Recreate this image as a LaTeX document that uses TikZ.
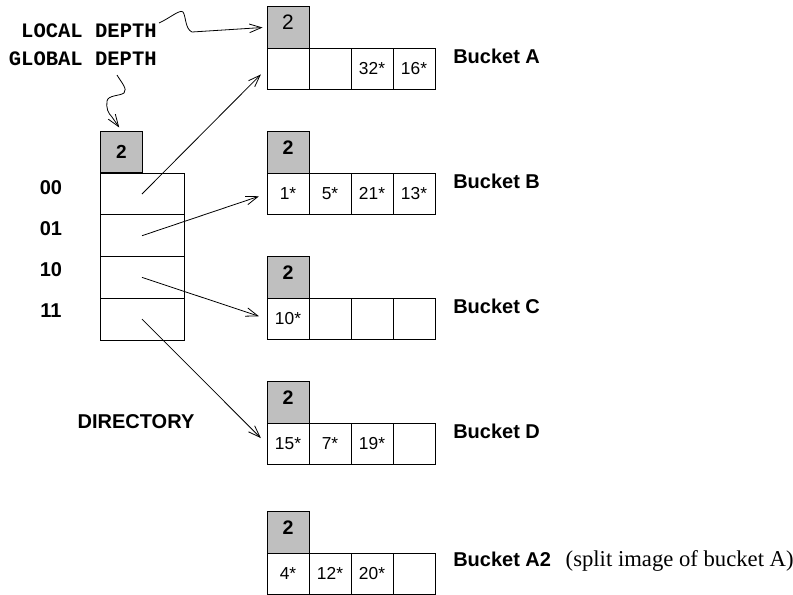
\documentclass[tikz,border=0pt]{standalone}
\usepackage{fontspec}
\setmainfont{Liberation Serif}
\setsansfont{Liberation Sans}
\setmonofont{Liberation Mono}
\usetikzlibrary{arrows.meta}

\begin{document}
\begin{tikzpicture}[x=0.75pt,y=-0.75pt,
  cell/.style={draw,line width=0.7pt,minimum width=31.5pt,minimum height=31.1pt,inner sep=0pt,
    text height=9.3pt,text depth=0pt,font=\sffamily\fontsize{13}{13}\selectfont},
  depthbox/.style={cell,fill=black!25,text height=10.5pt,text depth=7.5pt,
    font=\sffamily\bfseries\fontsize{14.7}{14.7}\selectfont},
  dircell/.style={cell,minimum width=63pt,minimum height=31.3pt},
  lbl/.style={inner sep=0pt,font=\sffamily\bfseries\fontsize{15}{15}\selectfont},
  monolbl/.style={inner sep=0pt,font=\ttfamily\bfseries\fontsize{15.4}{15.4}\selectfont},
  ptr/.style={line width=0.6pt,-{Straight Barb[length=9pt,width=6.5pt]},shorten >=6pt},
  squig/.style={line width=0.6pt,-{Straight Barb[length=9pt,width=6.5pt]},shorten >=3pt}]
\useasboundingbox (0,0) rectangle (793,594);

% buckets
\foreach \b/\y/\dv/\ca/\cb/\cc/\cd/\txt in {
    A/48/{\mdseries\fontsize{15.7}{15.7}\selectfont 2}/{}/{}/32*/16*/{Bucket A},
    B/173/2/1*/5*/21*/13*/{Bucket B},
    C/298/2/10*/{}/{}/{}/{Bucket C},
    D/423/2/15*/7*/19*/{}/{Bucket D},
    A2/553/2/4*/12*/20*/{}/{Bucket A2\hspace*{11pt}{\rmfamily\mdseries\fontsize{17}{17}\selectfont (split image of bucket A)}}} {
  \node[depthbox] (\b-d) at (288,\y-20.75) {\dv};
  \node[cell] (\b-1) at (288,\y+20.75) {\ca};
  \node[cell] (\b-2) at (330,\y+20.75) {\cb};
  \node[cell] (\b-3) at (372,\y+20.75) {\cc};
  \node[cell] (\b-4) at (414,\y+20.75) {\cd};
  \node[lbl,anchor=west] (\b-lbl) at (453,\y+8) {\txt};
}

% directory
\node[depthbox,text height=10pt,text depth=0pt,font=\sffamily\bfseries\fontsize{14.2}{14.2}\selectfont]
  (dd) at (121.5,152) {2};
\foreach \bits/\k in {00/0,01/1,10/2,11/3} {
  \node[dircell] (d\bits) at (142,194+41.7*\k) {};
  \node[lbl] (l\bits) at (51,188+41*\k) {\bits};
}
\node[lbl] (dir) at (136,422) {DIRECTORY};

\draw[ptr] (d00.center) -- (A-1.west);
\draw[ptr] (d01.center) -- (B-1.west);
\draw[ptr] (d10.center) -- (C-1.west);
\draw[ptr] (d11.center) -- (D-1.west);

% depth labels
\node[monolbl,anchor=east] (ld) at (157,31) {LOCAL DEPTH};
\node[monolbl,anchor=east] (gd) at (157,59) {GLOBAL DEPTH};
\coordinate (lstart) at (159,23);
\coordinate (gstart) at (117,75);
\draw[squig] (lstart) .. controls (170,18) and (180,9) .. (183,12)
  .. controls (186,16) and (185,29) .. (192,32) -- (A-d.west);
\draw[squig] (gstart) .. controls (121,82) and (128,89) .. (124,93)
  .. controls (120,96) and (108,95) .. (107,101)
  .. controls (106,108) and (108,113) .. (112,117) -- (dd.north);
\end{tikzpicture}
\end{document}
